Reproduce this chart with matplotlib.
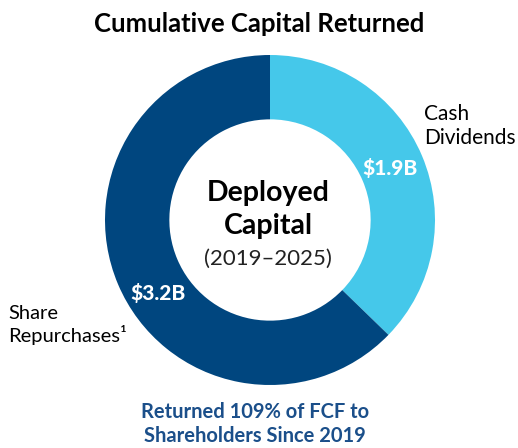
import matplotlib.pyplot as plt

labels = ["Cash Dividends", "Share Repurchases"]
values = [1.9, 3.2]
value_labels = ["$1.9B", "$3.2B"]
colors = ["#45C8EA", "#00467F"]

plt.rcParams["font.family"] = ["Lato", "DejaVu Sans"]

fig = plt.figure(figsize=(5.18, 4.48), dpi=100)
ax = fig.add_axes([0, 0, 1, 1])

cx, cy, r = 270, 448 - 220, 165
ax.pie(values, colors=colors, startangle=90, counterclock=False,
       radius=r, center=(cx, cy), wedgeprops=dict(width=r * 0.39, linewidth=0),
       frame=True)
ax.set_xlim(0, 518)
ax.set_ylim(0, 448)
ax.set_aspect("equal")
ax.axis("off")

ax.text(259, 448 - 24, "Cumulative Capital Returned", ha="center", va="center",
        fontsize=18.5, fontweight="bold", color="black")

ax.text(390, 448 - 168, value_labels[0], ha="center", va="center",
        fontsize=15, fontweight="black", color="white")
ax.text(158, 448 - 293, value_labels[1], ha="center", va="center",
        fontsize=15, fontweight="black", color="white")

ax.text(424, 448 - 126, "Cash\nDividends", ha="left", va="center",
        fontsize=15, color="black", linespacing=1.2)
ax.text(8, 448 - 325, "Share\nRepurchases\u00b9", ha="left", va="center",
        fontsize=14.5, color="black", linespacing=1.2)

ax.text(268, 448 - 193, "Deployed", ha="center", va="center",
        fontsize=20.5, fontweight="bold", color="black")
ax.text(268, 448 - 226, "Capital", ha="center", va="center",
        fontsize=20.5, fontweight="bold", color="black")
ax.text(268, 448 - 259, "(2019\u20132025)", ha="center", va="center",
        fontsize=16, color="#222222")

ax.text(255, 448 - 424, "Returned 109% of FCF to\nShareholders Since 2019",
        ha="center", va="center", fontsize=14.5, fontweight="bold",
        color="#1B4F8A", linespacing=1.2)

fig.savefig("out.png", dpi=100)
